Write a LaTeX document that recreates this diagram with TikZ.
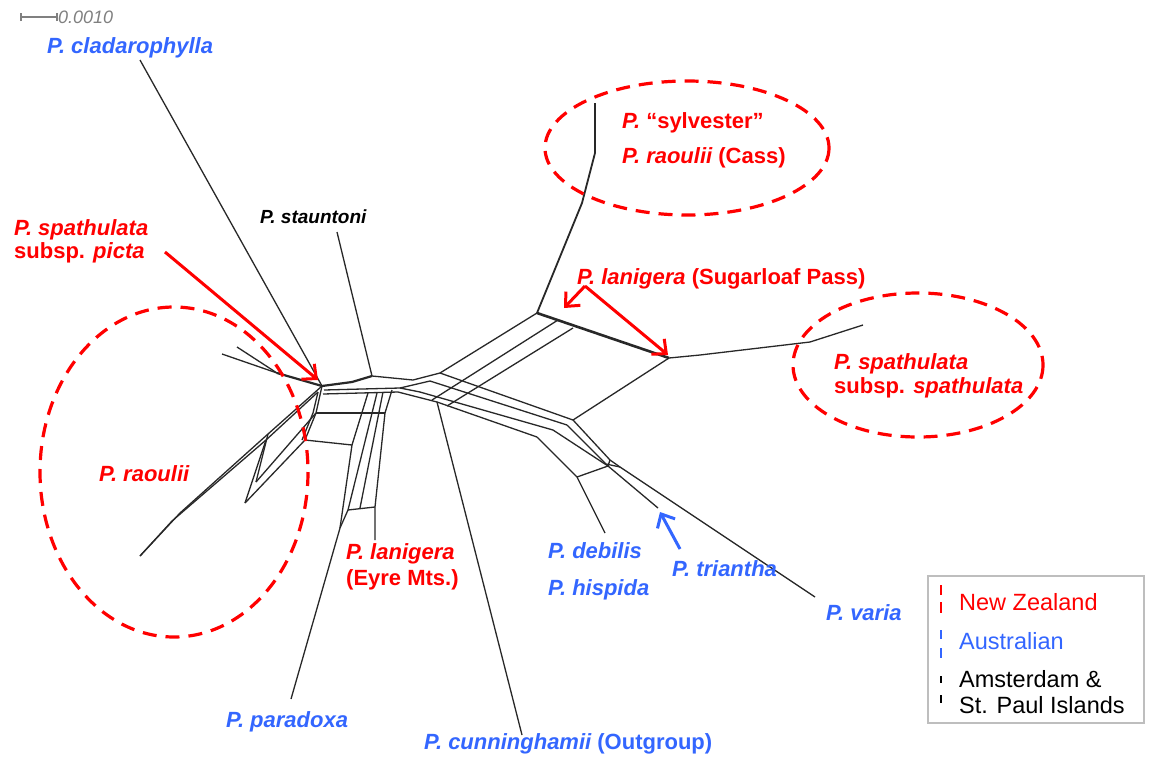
\documentclass[tikz,border=0pt]{standalone}
\usepackage{fontspec}
\setmainfont{Liberation Sans}
\usetikzlibrary{arrows.meta}
\definecolor{nzred}{RGB}{255,0,0}
\definecolor{aublue}{RGB}{51,102,255}
\definecolor{netc}{RGB}{40,40,40}
\definecolor{boxgray}{RGB}{190,190,190}
\begin{document}
\begin{tikzpicture}[x=1pt,y=-1pt,
  net/.style={draw=netc,line width=1.3pt},
  netthick/.style={draw=netc,line width=2.2pt},
  lab/.style={font=\fontsize{22}{26}\selectfont\bfseries\itshape,anchor=base west,inner sep=0pt},
  nzlab/.style={lab,text=nzred},
  aulab/.style={lab,text=aublue},
  leg/.style={font=\fontsize{23.5}{27}\selectfont,anchor=base west,inner sep=0pt},
  oval/.style={draw=nzred,line width=3.2pt,dash pattern=on 14pt off 9pt},
  redarrow/.style={draw=nzred,line width=3pt,-{Straight Barb[length=11pt,width=20pt]}},
  bluearrow/.style={draw=aublue,line width=3pt,-{Straight Barb[length=11pt,width=20pt]}}]
\useasboundingbox (0,0) rectangle (1154,756);
\fill[white] (0,0) rectangle (1154,756);

% ---------- coordinates ----------
\coordinate (tCl) at (140,60);
\coordinate (tPa) at (237,347);
\coordinate (tPb) at (222,354);
\coordinate (tSt) at (337,232);
\coordinate (tSy) at (595,103);
\coordinate (tSp) at (863,325);
\coordinate (tRa) at (140,556);
\coordinate (tRb) at (245,503);
\coordinate (tPx) at (291,699);
\coordinate (tEy) at (375,540);
\coordinate (tCu) at (522,735);
\coordinate (tDe) at (605,533);
\coordinate (tTr) at (658,508);
\coordinate (tVa) at (815,597);

\coordinate (nPj) at (277,373);
\coordinate (nA) at (322,386);
\coordinate (nA2) at (352,382);
\coordinate (nS) at (372,376);
\coordinate (nB0) at (413,380);
\coordinate (nP0) at (440,373);
\coordinate (nC) at (537,313);
\coordinate (nD) at (669,358);
\coordinate (nQ0) at (573,420);
\coordinate (nSy1) at (595,153);
\coordinate (nSy2) at (582,203);
\coordinate (nSp0) at (700,355);
\coordinate (nSp1) at (810,342);

\coordinate (nA3) at (324,390);
\coordinate (nA4) at (323,394);
\coordinate (nB1) at (400,388);
\coordinate (nB2) at (398,392);
\coordinate (nL2) at (430,381);
\coordinate (nL3) at (420,392);
\coordinate (nL4) at (437,402);
\coordinate (nQ0b) at (567,425);
\coordinate (nQ1) at (553,430);
\coordinate (nQ2) at (537,437);
\coordinate (nU2s) at (432,400);
\coordinate (nU2e) at (558,320);
\coordinate (nU3s) at (447,406);
\coordinate (nU3e) at (573,328);

\coordinate (nV1) at (610,460);
\coordinate (nV1b) at (606,464);
\coordinate (nV2) at (620,467);
\coordinate (nT1) at (608,466);
\coordinate (nDe1) at (577,477);

\coordinate (nR0b) at (318,392);
\coordinate (nR1) at (268,434);
\coordinate (nR1b) at (266,440);
\coordinate (nR2) at (180,513);
\coordinate (nR2b) at (172,521);
\coordinate (nZ1) at (256,482);
\coordinate (nK1) at (316,413);
\coordinate (nK1b) at (313,413);
\coordinate (nK2) at (305,440);
\coordinate (nK2b) at (302,440);
\coordinate (nE1) at (385,413);
\coordinate (nE2) at (352,445);
\coordinate (nEa) at (368,393);
\coordinate (nEb) at (340,528);
\coordinate (nEc) at (377,393);
\coordinate (nEd) at (383,392);
\coordinate (nEe) at (392,390);
\coordinate (nF1) at (348,510);
\coordinate (nF2) at (360,508);
\coordinate (nF3) at (375,507);

% ---------- network ----------
\draw[net] (tCl) -- (nA);
\draw[net] (tPa) -- (nPj);
\draw[net] (tPb) -- (nPj);
\draw[netthick] (nPj) -- (nA);
\draw[netthick] (nA) -- (nA2) -- (nS);
\draw[net] (tSt) -- (nS);
\draw[net] (nS) -- (nB0) -- (nP0);
\draw[net] (nA3) -- (nB1);
\draw[net] (nA4) -- (nB2);
\draw[net] (nB1) -- (nL2);
\draw[net] (nB1) -- (nL3);
\draw[net] (nB2) -- (nL4);
% big parallelogram
\draw[net] (nP0) -- (nC);
\draw[netthick,line width=2.6pt] (nC) -- (nD);
\draw[net] (nD) -- (nQ0);
\draw[net] (nP0) -- (nQ0);
\draw[net] (nL2) -- (nQ0b);
\draw[net] (nL3) -- (nQ1);
\draw[net] (nL4) -- (nQ2);
\draw[net] (nU2s) -- (nU2e);
\draw[net] (nU3s) -- (nU3e);
% sylvester and spathulata
\draw[net,line width=1.8pt] (nC) -- (nSy2) -- (nSy1);
\draw[net] (nSy1) -- (tSy);
\draw[net] (nD) -- (nSp0) -- (nSp1) -- (tSp);
% lower right
\draw[net] (nQ0) -- (nV1) -- (nV2) -- (tVa);
\draw[net] (nQ0b) -- (nV1b) -- (nV2);
\draw[net] (nQ1) -- (nT1) -- (tTr);
\draw[net] (nQ2) -- (nDe1) -- (tDe);
\draw[net] (nDe1) -- (nT1);
\draw[net] (nT1) -- (nV1);
% cunninghamii
\draw[net] (nL4) -- (tCu);
% raoulii
\draw[net] (nA) -- (nR1) -- (nR2) -- (tRa);
\draw[net] (nR0b) -- (nR1b) -- (nR2b) -- (tRa);
\draw[net] (nR1) -- (nZ1);
\draw[net] (nR1b) -- (tRb);
\draw[net] (nK1) -- (nZ1);
\draw[net] (nK2) -- (tRb);
\draw[net] (nA) -- (nK1) -- (nK2);
\draw[net] (nR0b) -- (nK1b) -- (nK2b);
% lanigera Eyre box
\draw[net] (nK1) -- (nE1);
\draw[net] (nK2) -- (nE2);
\draw[net] (nEa) -- (nE2) -- (nEb);
\draw[net] (nEc) -- (nF1);
\draw[net] (nEd) -- (nF2);
\draw[net] (nEe) -- (nE1) -- (nF3) -- (tEy);
\draw[net] (nF1) -- (nF3);
\draw[net] (tPx) -- (nEb) -- (nF1);

% ---------- ovals ----------
\draw[oval] (174,472) ellipse [x radius=134, y radius=165];
\draw[oval] (687,148) ellipse [x radius=142, y radius=67];
\draw[oval] (918,365) ellipse [x radius=125, y radius=72];

% ---------- arrows ----------
\coordinate (aPs) at (165,252);
\coordinate (aPe) at (318,380);
\draw[redarrow] (aPs) -- (aPe);
\coordinate (aLv) at (585,286);
\coordinate (aL1) at (564,308);
\coordinate (aL2) at (668,355);
\draw[redarrow] (aLv) -- (aL1);
\draw[redarrow] (aLv) -- (aL2);
\coordinate (aTs) at (680,549);
\coordinate (aTe) at (660,512);
\draw[bluearrow] (aTs) -- (aTe);

% ---------- scale bar ----------
\coordinate (sb1) at (21,17);
\coordinate (sb2) at (57,17);
\draw[gray,line width=1.2pt] (sb1) -- (sb2);
\draw[gray,line width=1.2pt] ([yshift=-4pt]sb1) -- ([yshift=4pt]sb1);
\draw[gray,line width=1.2pt] ([yshift=-4pt]sb2) -- ([yshift=4pt]sb2);
\node[font=\fontsize{18}{20}\selectfont\itshape,text=gray,anchor=base west,inner sep=0pt] (scale) at (58,23) {0.0010};

% ---------- labels ----------
\node[aulab] (cla) at (47,53) {P. cladarophylla};
\node[nzlab] (psp1) at (14,235) {P. spathulata};
\node[nzlab] (psp2) at (14,258) {\upshape subsp. \itshape picta};
\node[lab,font=\fontsize{19}{22}\selectfont\bfseries\itshape] (sta) at (260,223) {P. stauntoni};
\node[nzlab] (syl) at (622,128) {P. \upshape “sylvester”};
\node[nzlab] (rca) at (622,163) {P. raoulii \upshape (Cass)};
\node[nzlab] (lsp) at (577,284) {P. lanigera \upshape (Sugarloaf Pass)};
\node[nzlab] (ss1) at (834,369) {P. spathulata};
\node[nzlab] (ss2) at (834,393) {\upshape subsp. \itshape spathulata};
\node[nzlab] (rao) at (99,481) {P. raoulii};
\node[nzlab] (ley1) at (346,559) {P. lanigera};
\node[nzlab] (ley2) at (346,585) {\upshape (Eyre Mts.)};
\node[aulab] (deb) at (548,558) {P. debilis};
\node[aulab] (his) at (548,595) {P. hispida};
\node[aulab] (tri) at (672,576) {P. triantha};
\node[aulab] (var) at (826,620) {P. varia};
\node[aulab] (par) at (226,727) {P. paradoxa};
\node[aulab] (cun) at (424,749) {P. cunninghamii \upshape (Outgroup)};

% ---------- legend ----------
\node[draw=boxgray,line width=2pt,minimum width=216pt,minimum height=147pt,anchor=north west,inner sep=0pt] (legbox) at (927,575) {};
\coordinate (lr1) at (941,585); \coordinate (lr2) at (941,595);
\coordinate (lr3) at (941,602); \coordinate (lr4) at (941,613);
\draw[nzred,line width=2.5pt] (lr1) -- (lr2) (lr3) -- (lr4);
\coordinate (lb1) at (941,630); \coordinate (lb2) at (941,639);
\coordinate (lb3) at (941,648); \coordinate (lb4) at (941,658);
\draw[aublue,line width=2.5pt] (lb1) -- (lb2) (lb3) -- (lb4);
\coordinate (lk1) at (941,676); \coordinate (lk2) at (941,683);
\coordinate (lk3) at (941,695); \coordinate (lk4) at (941,703);
\draw[black,line width=2.5pt] (lk1) -- (lk2) (lk3) -- (lk4);
\node[leg,text=nzred] (lnz) at (959,610) {New Zealand};
\node[leg,text=aublue] (lau) at (959,649) {Australian};
\node[leg] (lam) at (959,687) {Amsterdam \&};
\node[leg] (lsp2) at (959,713) {St. Paul Islands};
\end{tikzpicture}
\end{document}
